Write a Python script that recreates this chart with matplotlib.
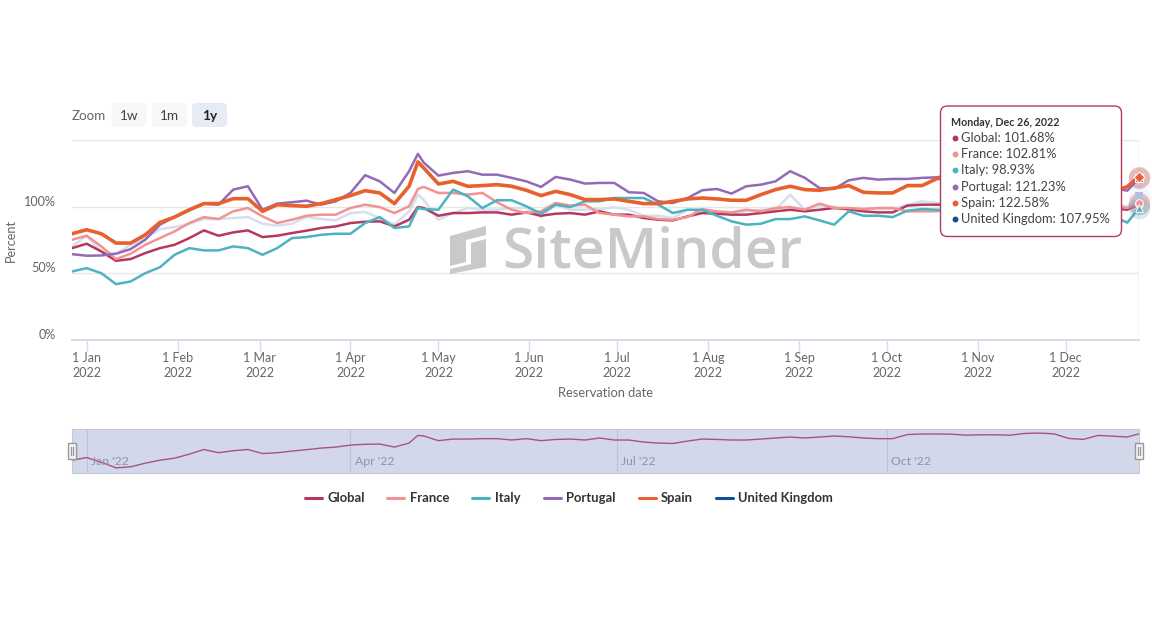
import matplotlib
matplotlib.use("Agg")
import matplotlib.pyplot as plt
import matplotlib.dates as mdates
from matplotlib.patches import FancyBboxPatch, Rectangle, Polygon
import pandas as pd

plt.rcParams['font.family'] = ['Lato', 'DejaVu Sans']

# Sample days counted from the start of the range (27 Dec 2021)
day_offsets = [0, 5, 10, 15, 20, 25, 30, 35, 40, 45, 50, 55, 60, 65, 70, 75, 80, 85, 90, 95, 100, 105, 110, 115,
               118, 120, 125, 130,
               135, 140, 145, 150, 155, 160, 165, 170, 175, 180, 185, 190, 195, 200, 205, 210, 215, 220, 225, 230,
               235, 240, 245, 250, 255, 260,
               265, 270, 275, 280, 285, 290, 295,
               300, 305, 310, 315, 320, 325, 330, 335, 340, 345, 350, 355,
               360, 364]

global_vals = [68.9, 72.2, 66.4, 59.4, 60.7, 65.2, 68.9, 71.4, 76.4, 82.2, 78.2, 80.7, 82.2, 77.2, 78.2, 80.2, 82, 84, 85.2, 87.7, 88.7, 89, 85.2, 90.2,
               99.7, 99, 93.2, 95.2,
               95.2, 95.7, 95.7, 94, 95.7, 93.2, 94.7, 95.2, 94, 96.5, 94, 94, 91.5, 90.2, 89.7, 92.7, 95.2, 94.7, 94, 94,
               95.2, 96.5, 97.7, 96.5, 97.7, 99,
               98, 96.5, 95.7, 95.7, 100.8, 101.5, 101.5,
               101.3, 100, 100.5, 100.5, 100, 102.2, 102.6, 101.7, 96, 94.8, 99.7, 98.8,
               97.7, 101.68]
france_vals = [75.2, 78.2, 70.2, 60.7, 64.7, 71.4, 76.4, 81.5, 87.7, 92.2, 90.7, 96.5, 99, 92.7, 87.7, 90.2, 93.2, 94, 94, 99, 101.5, 99.7, 95.2, 100.3,
               113.3, 114.8, 110.3, 110.3,
               109, 110.3, 103.3, 97.7, 95.2, 96.5, 102.8, 100.8, 101.5, 95.2, 94, 92.7, 92.7, 90.7, 90.2, 92.2, 98.2, 96.5, 95.7, 97.7,
               96.5, 99, 99.7, 97.7, 102.3, 99,
               99, 98.2, 99, 99, 96.5, 96.5, 96.5,
               99, 101, 100, 98, 100, 101, 100, 99, 94, 96, 99, 101,
               99, 102.81]
italy_vals = [51.4, 53.9, 50.1, 41.9, 43.9, 50.1, 54.6, 63.9, 68.9, 67.2, 67.2, 70.2, 68.9, 63.9, 68.9, 76.4, 77.2, 78.9, 79.7, 79.7, 87.7, 92.2, 84, 85.2,
              99, 98.2, 97.7, 112.8,
              107.8, 99, 104.8, 104.8, 100.3, 94.7, 101.5, 99.7, 104, 104, 106.5, 106.5, 106.5, 101.5, 95.2, 97.7, 97.7, 93.2,
              89, 86.5, 87.2, 90.7, 90.7, 92.7, 89.7, 86.5,
              96.5, 93.2, 93.2, 92.2, 97, 98.2, 97.7,
              97, 98, 97, 96, 97, 99, 98, 96, 90, 88, 91, 93,
              88, 98.93]
portugal_vals = [64.4, 63.2, 63.4, 64.7, 68.2, 75.2, 86.5, 92.2, 97.2, 102.3, 101.5, 112.8, 115.3, 97.7, 102.3, 103.3, 104.5, 101.5, 104, 110.3, 123.6, 119, 110.3, 126.6,
                 139.6, 133, 123.3, 125.3,
                 126.6, 124, 124, 121.6, 119, 114.8, 122.3, 120.3, 117.3, 117.8, 117.8, 110.8, 110.3, 104, 102.8, 106.5, 112.3, 113.3, 109.8, 115.3,
                 116.5, 119, 126.6, 121.6, 114, 113.3,
                 119.8, 121.6, 120.3, 120.8, 120.8, 121.6, 122,
                 124, 122, 120, 122, 124, 123, 123, 122, 116, 114, 115, 114,
                 112, 121.23]
spain_vals = [79.7, 82.7, 79.7, 72.7, 72.7, 78.9, 88.2, 92.2, 97.7, 102.3, 102.3, 106, 106, 96.5, 101.5, 100.8, 100.3, 102.3, 105.3, 108.3, 112, 110.3, 102.3, 115.3,
              133.6, 129, 117, 119,
              115.3, 115.8, 116.5, 115.3, 112.3, 108.3, 111.5, 109, 105.3, 105.3, 105.8, 104, 102.3, 102.3, 104, 105.8, 106.5, 105.8, 104.8, 104.8,
              109, 112.8, 115.3, 112.8, 112.3, 114,
              115.8, 110.8, 110.3, 110.3, 115.8, 115.8, 121,
              122, 120, 118, 119, 120, 121, 121, 119, 112, 110, 111, 111,
              115, 122.58]
uk_vals = [70.2, 78.2, 66.4, 64.7, 71.4, 76.4, 83.2, 84.7, 87.2, 90.7, 90.7, 91.5, 92.2, 87.2, 85.7, 87.2, 92.2, 90.7, 89.7, 95.2, 96, 91.5, 86.5, 96.5,
           109, 105, 90.2, 95.2,
           99, 97.7, 97.7, 99, 99, 92.2, 101.5, 97.7, 97.7, 98.2, 99.5, 97.7, 93.2, 93.2, 91.5, 97.7, 96.5, 95.2, 95.2, 96.5,
           97.7, 97.7, 109, 97.7, 100.8, 99.7,
           97.7, 99, 98.2, 98.2, 101.5, 104, 102.8,
           103, 101, 102, 100, 102, 102, 101, 100, 96, 97, 100, 102,
           100, 107.95]

series_names = ['Global', 'France', 'Italy', 'Portugal', 'Spain', 'United Kingdom']
series_colors = ['#b5395f', '#f29393', '#4cb3c0', '#9469b6', '#e8602c', '#d6deef']
legend_colors = ['#b5395f', '#f29393', '#4cb3c0', '#9469b6', '#e8602c', '#0f4c9a']
y_ticks = [0, 50, 100, 150]
y_tick_labels = ['0%', '50%', '100%']
x_ticks = ['2022-01-01', '2022-02-01', '2022-03-01', '2022-04-01', '2022-05-01', '2022-06-01',
           '2022-07-01', '2022-08-01', '2022-09-01', '2022-10-01', '2022-11-01', '2022-12-01']
nav_ticks = ['2022-01-01', '2022-04-01', '2022-07-01', '2022-10-01']

dates = pd.Timestamp('2021-12-27') + pd.to_timedelta(day_offsets, unit='D')
x_start, x_end = pd.Timestamp('2021-12-27'), pd.Timestamp('2022-12-26')
all_vals = [global_vals, france_vals, italy_vals, portugal_vals, spain_vals, uk_vals]

W, H = 1152, 640
fig = plt.figure(figsize=(W / 100, H / 100), dpi=100, facecolor='white')


def axes_px(x0, y0, x1, y1, **kw):
    return fig.add_axes([x0 / W, 1 - y1 / H, (x1 - x0) / W, (y1 - y0) / H], **kw)


GREY = '#666666'

# ---- main chart
ax = axes_px(72, 140, 1139, 340)
ax.set_xlim(x_start, x_end)
ax.set_ylim(0, 150)
for s in ['top', 'left', 'right']:
    ax.spines[s].set_visible(False)
ax.spines['bottom'].set_color('#d5dbea')
ax.spines['bottom'].set_linewidth(1.4)
ax.set_yticks(y_ticks)
ax.set_yticklabels([])
ax.tick_params(axis='y', length=0)
ax.grid(axis='y', color='#e6e6e6', lw=1)
ax.set_axisbelow(True)
for t, lab in zip(y_ticks, y_tick_labels):
    ax.annotate(lab, (0, t), xycoords=ax.get_yaxis_transform(), xytext=(-11.5, 3.6), textcoords='offset points',
                ha='right', va='center', fontsize=9.1, color=GREY)
ax.set_xticks(pd.to_datetime(x_ticks))
ax.xaxis.set_major_formatter(mdates.DateFormatter('%-d %b\n%Y'))
ax.tick_params(axis='x', length=8, width=1, color='#d5dbea', labelcolor=GREY, labelsize=9, pad=1)
for lab in ax.get_xticklabels():
    lab.set_linespacing(1.25)
ax.set_xlabel('Reservation date', fontsize=9.3, color=GREY, labelpad=6)
ax.set_ylabel('Percent', fontsize=9.2, color=GREY, labelpad=0)
ax.yaxis.set_label_coords(-0.0515, 0.5)
ax.axvline(x_end, color='#ccd2e2', lw=1, zorder=1.5)

draw_order = [5, 0, 1, 2, 3, 4]
for i in draw_order:
    ax.plot(dates, all_vals[i], color=series_colors[i], lw=2.6 if i == 4 else 1.8,
            solid_joinstyle='round', zorder=3 + draw_order.index(i) * 0.1)

end_markers = {0: 'o', 1: 'o', 2: '^', 3: 's', 4: 'D', 5: 's'}
end_colors = ['#b5395f', '#f29393', '#4cb3c0', '#9469b6', '#e8602c', '#b8bfdc']
for i in draw_order:
    ax.scatter([x_end], [all_vals[i][-1]], s=240, color=legend_colors[i] if i != 5 else series_colors[i],
               alpha=0.25, lw=0, clip_on=False, zorder=4)
for i in draw_order:
    ax.scatter([x_end], [all_vals[i][-1]], s=30, marker=end_markers[i], color=end_colors[i],
               edgecolor='white', lw=0.7 if i != 5 else 0, clip_on=False, zorder=5)

# ---- navigator
nav = axes_px(72, 429, 1139, 473)
nav.set_xlim(x_start, x_end)
nav.set_ylim(53, 107.7)
nav.set_facecolor('#d2d8ea')
nav.set_yticks([])
nav.set_xticks(pd.to_datetime(nav_ticks))
nav.set_xticklabels([])
nav.tick_params(axis='x', length=0)
nav.grid(axis='x', color='#bcc3d6', lw=0.8)
nav.set_axisbelow(True)
for s in nav.spines.values():
    s.set_color('#c4c9d8')
    s.set_linewidth(0.8)
nav.plot(dates, global_vals, color='#a8527f', lw=1)
for t in nav_ticks:
    d = pd.Timestamp(t)
    nav.annotate(d.strftime("%b '%y"), (mdates.date2num(d), 0), xycoords=nav.get_xaxis_transform(), xytext=(3, 4),
                 textcoords='offset points', ha='left', va='bottom', fontsize=8.8, color='#8f93a5')

# ---- page furniture, in pixel coordinates
ov = fig.add_axes([0, 0, 1, 1], facecolor='none', zorder=10)
ov.set_xlim(0, W)
ov.set_ylim(H, 0)
ov.axis('off')

# zoom buttons
ov.text(72, 115.5, 'Zoom', fontsize=9.6, color=GREY, va='center', ha='left')
for lab, x0, x1, fc, col, wt in [('1w', 112, 146, '#f7f7f7', '#444444', 'normal'),
                                 ('1m', 152, 187, '#f7f7f7', '#444444', 'normal'),
                                 ('1y', 192, 227, '#e6ebf5', '#222222', 'bold')]:
    ov.add_patch(FancyBboxPatch((x0 + 2, 105), x1 - x0 - 4, 20, boxstyle='round,pad=0,rounding_size=2', mutation_scale=1,
                                fc=fc, ec=fc, lw=3))
    ov.text((x0 + x1) / 2, 115.5, lab, fontsize=9.8, color=col, ha='center', va='center', fontweight=wt)

# watermark
ov.add_patch(Polygon([(450, 236), (486, 226), (486, 235), (466, 240), (466, 262), (450, 266)], fc='#c9c9c9', ec='none', zorder=0.5))
ov.add_patch(Polygon([(471, 243), (486, 239), (486, 267), (450, 274), (450, 269), (471, 264)], fc='#c9c9c9', ec='none', zorder=0.5))
ov.text(502, 253, 'SiteMinder', fontsize=41, color='#c9c9c9', ha='left', va='center', family=['Open Sans', 'DejaVu Sans'],
        fontweight='semibold', zorder=0.5)

# navigator handles
for hx in (72, 1139):
    ov.add_patch(Rectangle((hx - 4, 443), 8, 16, fc='#f4f4f4', ec='#999999', lw=1))
    ov.plot([hx - 1.3, hx - 1.3], [447, 455], color='#999999', lw=0.9)
    ov.plot([hx + 1.3, hx + 1.3], [447, 455], color='#999999', lw=0.9)

# legend
legend_x = [(304, 328), (386, 410), (471, 495), (543, 566), (638, 661), (715, 738)]
for name, col, (lx, tx) in zip(series_names, legend_colors, legend_x):
    ov.plot([lx + 1, lx + 18], [497.5, 497.5], color=col, lw=2.2, solid_capstyle='round')
    ov.text(tx, 497.5, name, fontsize=9.4, color='#333333', fontweight='bold', va='center', ha='left')

# tooltip
ov.add_patch(FancyBboxPatch((940.5, 106), 181, 130.5, boxstyle='round,pad=0,rounding_size=7', mutation_scale=1,
                            fc='white', ec='#b5395f', lw=1, zorder=6))
ov.text(951, 123, 'Monday, Dec 26, 2022', fontsize=7.7, color='#333333', fontweight='bold', va='center', ha='left', zorder=7)
tip_y = [137.7, 154, 170.3, 186.6, 203, 219]
for name, col, vals, ty in zip(series_names, legend_colors, all_vals, tip_y):
    ov.scatter([954.5], [ty], s=18, color=col, lw=0, zorder=7)
    ov.text(961, ty, f'{name}: {vals[-1]:.2f}%', fontsize=9.3, color='#444444', va='center', ha='left', zorder=7)

fig.savefig('out.png', dpi=100, facecolor='white')
